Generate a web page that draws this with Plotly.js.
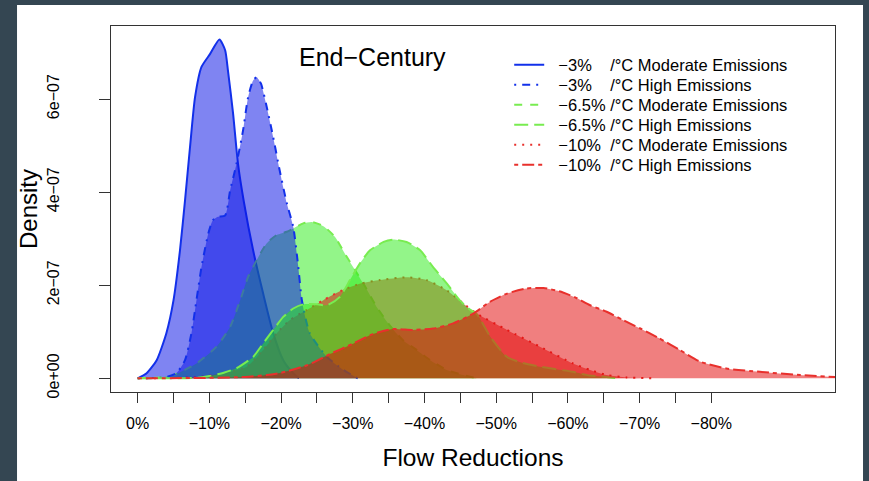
<!DOCTYPE html>
<html><head><meta charset="utf-8">
<script src="https://cdn.plot.ly/plotly-3.0.1.min.js"></script>
<style>
html,body{margin:0;padding:0;background:#344652;width:869px;height:481px;overflow:hidden}
#chart{position:absolute;left:0;top:0;width:869px;height:481px}
</style></head><body><div id="chart"></div>
<script>
// x: flow reduction (%), y: density in units of 1e-07
const xTickVals = [0,5,10,15,20,25,30,35,40,45,50,55,60,65,70,75,80];
const xTickText = ["0%","","\u221210%","","\u221220%","","\u221230%","","\u221240%","","\u221250%","","\u221260%","","\u221270%","","\u221280%"];
const yTickVals = [0,2,4,6];
const yTickText = ["0e+00","2e\u221207","4e\u221207","6e\u221207"];

const seriesNames = [
  "\u22123%\u00A0\u00A0\u00A0\u00A0/\u00B0C Moderate Emissions",
  "\u22123%\u00A0\u00A0\u00A0\u00A0/\u00B0C High Emissions",
  "\u22126.5%\u00A0/\u00B0C Moderate Emissions",
  "\u22126.5%\u00A0/\u00B0C High Emissions",
  "\u221210%\u00A0\u00A0/\u00B0C Moderate Emissions",
  "\u221210%\u00A0\u00A0/\u00B0C High Emissions"
];

const blueModX = [0,1.25,2.65,4.0,5.0,5.9,6.6,7.3,8.0,8.9,10.1,11.4,12.2,12.6,13.3,14.0,14.8,16.1,17.5,18.9,20.3,21.7,22.5];
const blueModY = [0,0.11,0.39,0.97,1.68,2.75,3.82,4.97,6.04,6.69,6.97,7.28,7.05,6.6,5.7,4.6,3.8,2.75,1.82,0.97,0.39,0.11,0];

const blueHighX = [0,3.0,4.0,5.4,6.6,7.5,8.2,8.9,9.85,10.5,11.2,12.2,12.9,13.8,14.7,15.4,16.1,16.6,17.2,18.0,18.9,19.8,20.8,21.7,22.4,22.9,24.0,26.4,28.7,30.7];
const blueHighY = [0,0.01,0.03,0.11,0.39,0.97,1.68,2.39,3.11,3.4,3.47,3.5,4.04,4.62,5.33,6.04,6.4,6.47,6.33,5.83,5.18,4.47,3.76,3.25,2.39,1.68,0.97,0.46,0.18,0];

const greenModX = [0,3,5.0,8.2,11.0,12.9,14.3,15.4,16.6,18.0,19.4,20.8,21.7,23.1,24.3,25.9,27.5,29.0,30.5,31.8,33.3,35.3,37.0,38.9,40.8,43.1,45.4,47.3];
const greenModY = [0,0.02,0.07,0.32,0.68,1.11,1.68,2.18,2.54,2.9,3.08,3.15,3.22,3.33,3.36,3.27,3.04,2.65,2.28,1.95,1.54,1.11,0.82,0.61,0.39,0.18,0.07,0];

const greenHighX = [0,8,10,12,13.8,16.1,17.5,18.9,20.3,21.7,23.1,25.0,26.4,28.2,29.6,31.0,32.4,34.3,35.6,37.5,39.4,41.2,43.1,44.9,46.4,47.3,49.2,51.5,53.7,56.1,60.7,63,65.4,67];
const greenHighY = [0,0.01,0.05,0.12,0.22,0.46,0.75,1.04,1.32,1.5,1.59,1.59,1.57,1.75,2.11,2.47,2.75,2.93,2.98,2.93,2.75,2.39,2.04,1.68,1.47,1.38,0.89,0.46,0.33,0.25,0.14,0.06,0.03,0];

const redModX = [0,5,9,11.9,15.2,17.5,19.4,21.2,23.6,25.9,28.5,31.2,33.8,37.5,40.3,43.1,45.4,47.3,51.5,56.1,60.7,63.1,65.4,68.2,72];
const redModY = [0,0.01,0.04,0.11,0.25,0.61,0.97,1.25,1.47,1.68,1.89,2.04,2.11,2.17,2.11,1.89,1.61,1.39,1.04,0.68,0.32,0.18,0.07,0.02,0];

const redHighX = [0,10,15,18,20,23.6,26.8,30.1,32.8,35.6,38.4,41.2,44.0,46.8,49.1,51.5,54.2,56.6,58.8,61.0,63.1,65.4,67.7,70.1,72.6,75.6,78.4,82.1,86.8,92.4,98];
const redHighY = [0,0.01,0.03,0.07,0.12,0.28,0.52,0.75,0.95,1.06,1.04,1.07,1.18,1.39,1.64,1.82,1.93,1.94,1.87,1.74,1.57,1.43,1.25,1.07,0.87,0.61,0.36,0.21,0.14,0.07,0.02];

// styles
const BLUE_L = "#1230ea", BLUE_F = "rgba(10,20,230,0.52)";
const GREEN_L = "#78ec50", GREEN_F = "rgba(40,235,20,0.5)";
const RED_L = "#e8302c", RED_F = "rgba(225,0,0,0.5)";

const series = [
  {name: seriesNames[0], x: blueModX, y: blueModY, lc: BLUE_L, fc: BLUE_F, dash: "solid", leg: "legend"},
  {name: seriesNames[2], x: greenModX, y: greenModY, lc: GREEN_L, fc: GREEN_F, dash: "8px,8px", leg: "legend3"},
  {name: seriesNames[4], x: redModX, y: redModY, lc: RED_L, fc: RED_F, dash: "2px,6px", leg: "legend5"},
  {name: seriesNames[1], x: blueHighX, y: blueHighY, lc: BLUE_L, fc: BLUE_F, dash: "2px,6px,8px,6px", leg: "legend2"},
  {name: seriesNames[3], x: greenHighX, y: greenHighY, lc: GREEN_L, fc: GREEN_F, dash: "14px,6px", leg: "legend4"},
  {name: seriesNames[5], x: redHighX, y: redHighY, lc: RED_L, fc: RED_F, dash: "4px,4px,12px,4px", leg: "legend6"}
];

const traces = [];
series.forEach(s => {
  traces.push({x: s.x, y: s.y, type: "scatter", mode: "lines", fill: "tozeroy",
    fillcolor: s.fc, line: {color: s.lc, width: 2, dash: s.dash, shape: "spline", smoothing: 0.6},
    showlegend: false, hoverinfo: "skip"});
});
series.forEach(s => {
  traces.push({x: [null], y: [null], type: "scatter", mode: "lines", name: "\u00A0\u00A0" + s.name,
    line: {color: s.lc, width: 2, dash: s.dash}, showlegend: true, legend: s.leg});
});

const FONT = "Liberation Sans, Arial, Helvetica, sans-serif";
const legRowsY = [0.8934, 0.8388, 0.7842, 0.7295, 0.6749, 0.6202];
const legKeys = ["legend","legend2","legend3","legend4","legend5","legend6"];

const layout = {
  width: 869, height: 481,
  margin: {l: 111, r: 34, t: 26, b: 89},
  paper_bgcolor: "#344652", plot_bgcolor: "#ffffff",
  font: {family: FONT, color: "#000"},
  showlegend: true,
  shapes: [{type: "rect", xref: "paper", yref: "paper", x0: -0.1298, x1: 1.0387, y0: -0.26, y1: 1.0574,
    fillcolor: "#ffffff", line: {width: 0}, layer: "below"}],
  xaxis: {
    range: [-3.72, 97.25], showgrid: false, zeroline: false,
    showline: true, mirror: true, linecolor: "#333", linewidth: 1,
    ticks: "outside", ticklen: 10, tickcolor: "#333", tickwidth: 1,
    tickmode: "array", tickvals: xTickVals, ticktext: xTickText,
    tickfont: {size: 16, family: FONT, color: "#000"}, ticklabelstandoff: 7,
    title: {text: "Flow Reductions", font: {size: 24.5, family: FONT, color: "#000"}, standoff: 17}
  },
  yaxis: {
    range: [-0.294, 7.57], showgrid: false, zeroline: false,
    showline: true, mirror: true, linecolor: "#333", linewidth: 1,
    ticks: "outside", ticklen: 11, tickcolor: "#333", tickwidth: 1,
    tickmode: "array", tickvals: yTickVals, ticktext: yTickText, tickangle: -90,
    tickfont: {size: 16, family: FONT, color: "#000"}, ticklabelstandoff: 34
  },
  annotations: [{
    text: "End\u2212Century", xref: "paper", yref: "paper", x: 0.3612, y: 0.9153,
    xanchor: "center", yanchor: "middle", showarrow: false,
    font: {size: 25, family: FONT, color: "#000"}
  }, {
    text: "Density", xref: "paper", yref: "paper", x: -0.1146, y: 0.5,
    xanchor: "center", yanchor: "middle", showarrow: false, textangle: -90,
    font: {size: 24, family: FONT, color: "#000"}
  }]
};
legKeys.forEach((k, i) => {
  layout[k] = {x: 0.55, y: legRowsY[i], xanchor: "left", yanchor: "middle",
    bgcolor: "rgba(0,0,0,0)", borderwidth: 0, itemwidth: 30,
    font: {size: 16.5, family: FONT, color: "#000"}};
});

Plotly.newPlot("chart", traces, layout, {displayModeBar: false, staticPlot: true});
</script></body></html>
